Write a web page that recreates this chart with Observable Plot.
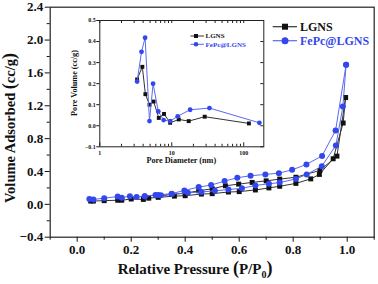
<!DOCTYPE html>
<html><head><meta charset="utf-8">
<script src="https://cdn.jsdelivr.net/npm/d3@7"></script>
<script src="https://cdn.jsdelivr.net/npm/@observablehq/plot@0.6"></script>
<style>
body{margin:0;background:#fff;}
#wrap{position:relative;width:378px;height:284px;overflow:hidden;}
#wrap svg{position:absolute;left:0;top:0;}
#wrap text{font-family:'Liberation Serif','Times New Roman',serif;font-weight:bold;}
</style></head><body><div id="wrap"></div>
<script>
// ---- main isotherm data (relative pressure P/P0, volume adsorbed cc/g) ----
const lgnsAdsP = [0.05,0.06,0.10,0.15,0.165,0.20,0.245,0.265,0.30,0.36,0.40,0.46,0.50,0.56,0.60,0.66,0.71,0.75,0.81,0.865,0.897,0.948,0.985,0.994];
const lgnsAdsV = [0.04,0.04,0.045,0.05,0.05,0.065,0.06,0.075,0.085,0.10,0.105,0.125,0.13,0.15,0.155,0.175,0.20,0.22,0.255,0.31,0.364,0.555,0.99,1.30];
const lgnsDesP = [0.994,0.962,0.899,0.81,0.75,0.70,0.648,0.598,0.549,0.50,0.45,0.40,0.35,0.30];
const lgnsDesV = [1.30,0.587,0.413,0.33,0.307,0.286,0.267,0.246,0.226,0.19,0.165,0.135,0.12,0.10];
const fepcAdsP = [0.045,0.06,0.10,0.15,0.165,0.195,0.22,0.25,0.29,0.31,0.35,0.41,0.46,0.51,0.56,0.61,0.66,0.71,0.75,0.81,0.85,0.906,0.958,0.984,0.996];
const fepcAdsV = [0.065,0.06,0.075,0.095,0.08,0.10,0.09,0.10,0.115,0.11,0.125,0.14,0.15,0.165,0.18,0.195,0.23,0.25,0.265,0.31,0.364,0.465,0.717,1.19,1.70];
const fepcDesP = [0.996,0.957,0.907,0.849,0.796,0.747,0.697,0.642,0.593,0.546,0.496,0.45,0.397,0.35,0.30,0.25];
const fepcDesV = [1.70,0.90,0.59,0.486,0.42,0.38,0.364,0.348,0.324,0.283,0.234,0.21,0.17,0.13,0.115,0.10];
// ---- inset pore-size distribution data (diameter nm, pore volume cc/g) ----
const lgnsD  = [3.3,3.9,4.3,4.9,5.6,6.6,7.8,9.5,12.5,17.2,28.7,118];
const lgnsPV = [0.22,0.28,0.15,0.10,0.115,0.037,0.056,0.014,0.03,0.022,0.043,0.011];
const fepcD  = [3.3,3.8,4.26,4.9,5.5,6.5,7.7,9.5,12.1,18,33.4,165];
const fepcPV = [0.21,0.351,0.418,0.022,0.2,0.068,0.027,0.022,0.045,0.076,0.084,0.014];
// ---- ticks ----
const xMajor = [0,0.2,0.4,0.6,0.8,1.0];
const xMinor = [-0.1,0.1,0.3,0.5,0.7,0.9,1.1];
const yMajor = [-0.4,0,0.4,0.8,1.2,1.6,2.0,2.4];
const yMinor = [-0.2,0.2,0.6,1.0,1.4,1.8,2.2];
const insetYTicks = [-0.1,0,0.1,0.2,0.3,0.4,0.5];
const insetXMajor = [1,10,100];
const insetXMinor = [2,3,4,5,6,7,8,9,20,30,40,50,60,70,80,90];
const seriesNames = ["LGNS","FePc@LGNS"];

const pts = (P,V)=>P.map((p,i)=>({p,v:V[i]}));
const lgnsAds = pts(lgnsAdsP,lgnsAdsV), lgnsDes = pts(lgnsDesP,lgnsDesV);
const fepcAds = pts(fepcAdsP,fepcAdsV), fepcDes = pts(fepcDesP,fepcDesV);
const lgnsPsd = pts(lgnsD,lgnsPV), fepcPsd = pts(fepcD,fepcPV);

const BLUE = "#3347ee", BLUEL = "#5a6af0", BLK = "#111", LINEK = "#333";
const W = 378, H = 284;
const f1 = d3.format(".1f");

const main = Plot.plot({
  width: W, height: H,
  marginLeft: 49.7, marginRight: 4.3, marginTop: 6.7, marginBottom: 47.3,
  x: {domain: [-0.1, 1.1]},
  y: {domain: [-0.4, 2.4]},
  style: {background: "transparent", color: "#111"},
  marks: [
    Plot.axisX(xMinor, {tickSize: 3, tickFormat: () => "", label: null}),
    Plot.axisX(xMajor, {tickSize: 5, tickPadding: 3, tickFormat: f1, fontSize: 13, label: null}),
    Plot.axisY(yMinor, {tickSize: 3, tickFormat: () => "", label: null}),
    Plot.axisY(yMajor, {tickSize: 5, tickPadding: 2, tickFormat: f1, fontSize: 13, label: null}),
    Plot.frame({stroke: "#222", strokeWidth: 1.2}),
    Plot.line(lgnsAds, {x: "p", y: "v", stroke: LINEK, strokeWidth: 1}),
    Plot.line(lgnsDes, {x: "p", y: "v", stroke: LINEK, strokeWidth: 1}),
    Plot.dot(lgnsAds.concat(lgnsDes), {x: "p", y: "v", symbol: "square", r: 2.8, fill: BLK}),
    Plot.line(fepcAds, {x: "p", y: "v", stroke: BLUEL, strokeWidth: 1}),
    Plot.line(fepcDes, {x: "p", y: "v", stroke: BLUEL, strokeWidth: 1}),
    Plot.dot(fepcAds.concat(fepcDes), {x: "p", y: "v", r: 3, fill: BLUE})
  ]
});

const fw = W - 99.3 - 114.7, fh = H - 20 - 137.7;
const inset = Plot.plot({
  width: W, height: H,
  marginLeft: 99.3, marginRight: 114.7, marginTop: 20, marginBottom: 137.7,
  x: {type: "log", domain: [1, 190]},
  y: {domain: [-0.1, 0.5]},
  style: {background: "transparent", color: "#111"},
  marks: [
    Plot.frame({fill: "white", stroke: "none"}),
    Plot.axisX(insetXMajor, {tickSize: 0, tickPadding: 4, tickFormat: d => String(d), fontSize: 6, label: null}),
    Plot.tickX(insetXMajor, {x: d => d, stroke: "#222", insetTop: fh - 4}),
    Plot.tickX(insetXMinor, {x: d => d, stroke: "#222", insetTop: fh - 2.5}),
    Plot.tickX(insetXMajor.concat(insetXMinor), {x: d => d, stroke: "#222", insetBottom: fh - 3}),
    Plot.axisY(insetYTicks, {tickSize: 3, tickPadding: 1, tickFormat: f1, fontSize: 6, label: null}),
    Plot.tickY(insetYTicks, {y: d => d, stroke: "#222", insetLeft: fw - 3}),
    Plot.frame({stroke: "#222", strokeWidth: 1}),
    Plot.line(lgnsPsd, {x: "p", y: "v", stroke: LINEK, strokeWidth: 1}),
    Plot.dot(lgnsPsd, {x: "p", y: "v", symbol: "square", r: 2.2, fill: BLK}),
    Plot.line(fepcPsd, {x: "p", y: "v", stroke: BLUEL, strokeWidth: 1}),
    Plot.dot(fepcPsd, {x: "p", y: "v", r: 2.4, fill: BLUE})
  ]
});

const wrap = document.getElementById("wrap");
wrap.appendChild(main);
wrap.appendChild(inset);

// ---- axis titles (main) ----
const ms = d3.select(main);
const xt = ms.append("text").attr("x", 195).attr("y", 274).attr("text-anchor", "middle")
  .attr("font-size", 15).attr("fill", "#111");
xt.append("tspan").text("Relative Pressure ");
xt.append("tspan").attr("font-size", 18).text("(");
xt.append("tspan").text("P/P");
xt.append("tspan").attr("font-size", 10).attr("dy", 4).text("0");
xt.append("tspan").attr("font-size", 18).attr("dy", -4).text(")");
const yt = ms.append("text").attr("transform", "translate(15,128) rotate(-90)").attr("text-anchor", "middle")
  .attr("font-size", 14.5).attr("fill", "#111");
yt.append("tspan").text("Volume Adsorbed ");
yt.append("tspan").attr("font-size", 18).text("(");
yt.append("tspan").text("cc/g");
yt.append("tspan").attr("font-size", 18).text(")");

// ---- main legend ----
const cols = [BLK, BLUE], lcols = [LINEK, BLUEL], rowsY = [26.7, 40.7];
seriesNames.forEach((name, i) => {
  const y = rowsY[i];
  ms.append("line").attr("x1", 272.7).attr("x2", 297).attr("y1", y).attr("y2", y).attr("stroke", lcols[i]).attr("stroke-width", 1.2);
  if (i === 0) ms.append("rect").attr("x", 282).attr("y", y - 3).attr("width", 6).attr("height", 6).attr("fill", BLK);
  else ms.append("circle").attr("cx", 285).attr("cy", y).attr("r", 3.5).attr("fill", BLUE);
  ms.append("text").attr("x", 300).attr("y", y + 4.3).attr("text-anchor", "start").attr("font-size", 12).attr("fill", cols[i]).text(name);
});

// ---- inset titles and legend ----
const is = d3.select(inset);
is.append("text").attr("x", 181.3).attr("y", 163).attr("text-anchor", "middle").attr("font-size", 8.2).attr("fill", "#111").text("Pore Diameter (nm)");
is.append("text").attr("transform", "translate(76.5,83) rotate(-90)").attr("text-anchor", "middle").attr("font-size", 8.2).attr("fill", "#111").text("Pore Volume (cc/g)");
const iy = [36, 44.3];
seriesNames.forEach((name, i) => {
  const y = iy[i];
  is.append("line").attr("x1", 190.5).attr("x2", 204).attr("y1", y).attr("y2", y).attr("stroke", lcols[i]).attr("stroke-width", 1);
  if (i === 0) is.append("rect").attr("x", 194).attr("y", y - 2).attr("width", 4).attr("height", 4).attr("fill", BLK);
  else is.append("circle").attr("cx", 196).attr("cy", y).attr("r", 2.3).attr("fill", BLUE);
  is.append("text").attr("x", 205.5).attr("y", y + 2.4).attr("text-anchor", "start").attr("font-size", 7).attr("fill", cols[i]).text(name);
});
</script></body></html>
